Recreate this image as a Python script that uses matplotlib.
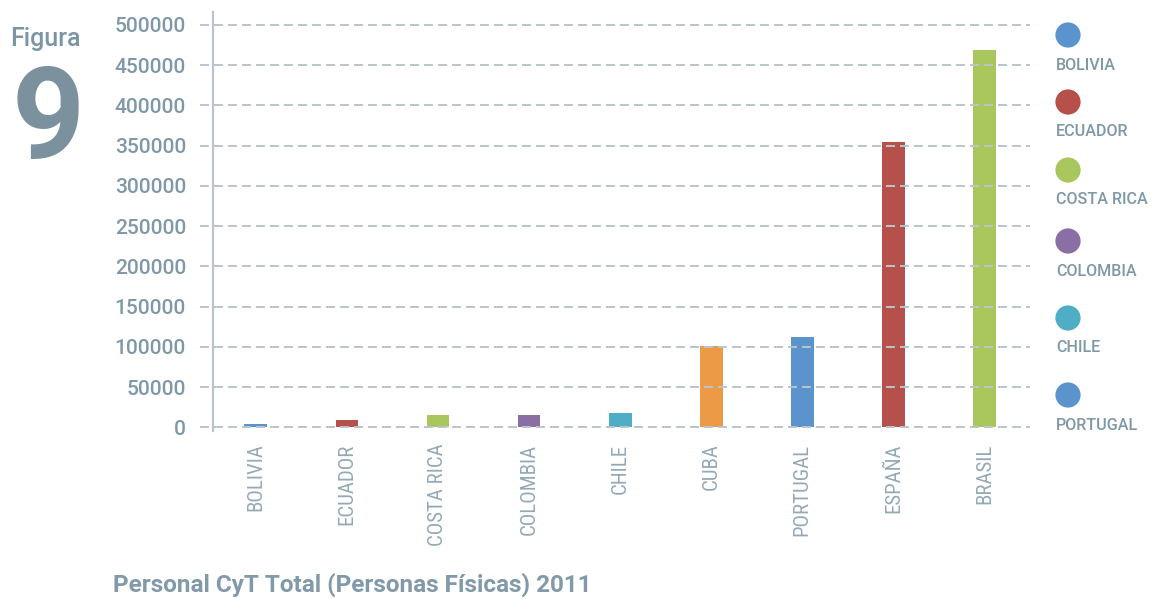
import matplotlib
matplotlib.use("Agg")
import matplotlib.pyplot as plt
import matplotlib.font_manager as fm

# ---------------- data ----------------
countries = ["BOLIVIA", "ECUADOR", "COSTA RICA", "COLOMBIA", "CHILE",
             "CUBA", "PORTUGAL", "ESPAÑA", "BRASIL"]
values = [4000, 8700, 15500, 15500, 17500, 100500, 112000, 354500, 469000]
bar_colors = ["#5b93cd", "#b5504a", "#aac75e", "#8a6fa5", "#4fadc6",
              "#ec9a45", "#5b93cd", "#b5504a", "#aac75e"]
yticks = [0, 50000, 100000, 150000, 200000, 250000, 300000, 350000, 400000, 450000, 500000]
legend_labels = ["BOLIVIA", "ECUADOR", "COSTA RICA", "COLOMBIA", "CHILE", "PORTUGAL"]
legend_colors = ["#5b93cd", "#b5504a", "#aac75e", "#8a6fa5", "#4fadc6", "#5b93cd"]
title = "Personal CyT Total (Personas Físicas) 2011"

# ---------------- fonts ----------------
names = {f.name for f in fm.fontManager.ttflist}
dejavu_cond = any("Condensed" in f.fname and "DejaVuSans" in f.fname for f in fm.fontManager.ttflist)
if "Roboto Condensed" in names:
    COND = dict(family="Roboto Condensed")
elif "Liberation Sans Narrow" in names:
    COND = dict(family="Liberation Sans Narrow")
elif dejavu_cond:
    COND = dict(family="DejaVu Sans", stretch="condensed")
else:
    COND = dict(family="Roboto")
MAIN = "Roboto" if "Roboto" in names else "DejaVu Sans"

TXT = "#7f98a8"
GRID = "#b9c5cc"

W, H = 1152, 599
fig = plt.figure(figsize=(W / 100, H / 100), dpi=100)
ax_left, ax_right, ax_top, ax_bot = 213, 1030, 12, 431
ax = fig.add_axes([ax_left / W, 1 - ax_bot / H, (ax_right - ax_left) / W, (ax_bot - ax_top) / H])

x = list(range(len(countries)))
ax.bar(x, values, width=0.25, color=bar_colors, zorder=2)
ax.set_xlim(-0.47, 8.5)
ax.set_ylim(-4500, 516000)

# dashed grid lines that extend a little to the left of the axis
ax.hlines(yticks, xmin=-13 / (ax_right - ax_left), xmax=1,
          transform=ax.get_yaxis_transform(), clip_on=False,
          colors=GRID, linewidth=1.4, linestyles=[(0, (4.6, 2.6))], zorder=3)

ax.set_yticks(yticks)
ax.set_yticklabels([str(v) for v in yticks], fontsize=15, color=TXT,
                   family=MAIN, fontweight=500)
ax.tick_params(axis="y", length=0, pad=19.5)

ax.set_xticks(x)
ax.set_xticklabels(countries, rotation=90, fontsize=15, color="#94a9b6",
                   va="top", ha="center", **COND)
ax.tick_params(axis="x", length=0, pad=9)

for s in ["top", "right", "bottom"]:
    ax.spines[s].set_visible(False)
ax.spines["left"].set_color(GRID)
ax.spines["left"].set_linewidth(1.6)
ax.spines["left"].set_zorder(4)

# Figure label
fig.text(10 / W, 1 - 46 / H, "Figura", fontsize=18, color="#7b95a5",
         family=MAIN, fontweight=500, va="baseline", ha="left")
fig.text(48 / W, 1 - 158 / H, "9", fontsize=92, fontweight="bold",
         color="#7b919e", family=MAIN, va="baseline", ha="center")

# Title
fig.text(113 / W, 1 - 592 / H, title, fontsize=17.5, fontweight="bold",
         color="#8199a8", family=MAIN, va="baseline", ha="left")

# Manual legend
lax = fig.add_axes([0, 0, 1, 1])
lax.set_xlim(0, W)
lax.set_ylim(H, 0)
lax.axis("off")
circle_y = [35, 102, 170, 241, 318, 395]
for cy, lab, col in zip(circle_y, legend_labels, legend_colors):
    lax.scatter([1068], [cy], s=330, color=col, edgecolors="none")
    lax.text(1056, cy + 30, lab, fontsize=11.6, color=TXT, family=MAIN,
             fontweight=500, va="center", ha="left")

fig.savefig("out.png", dpi=100)
